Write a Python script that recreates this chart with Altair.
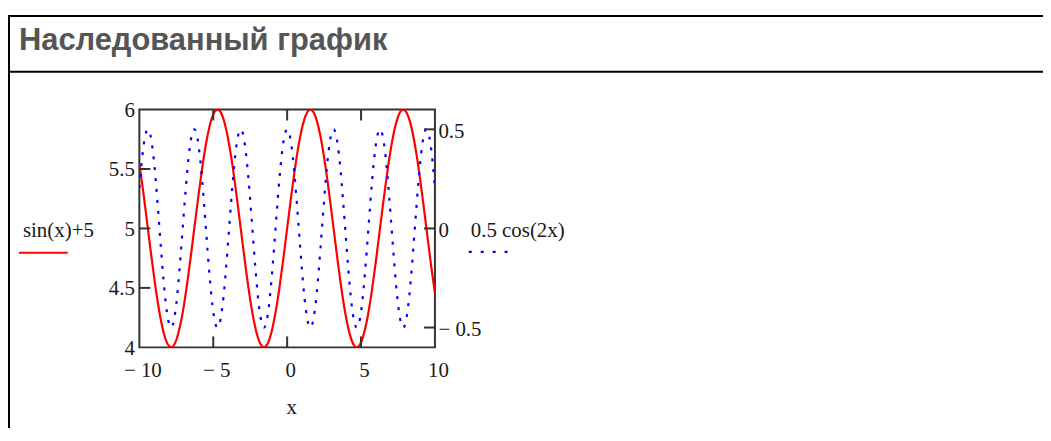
import altair as alt
import pandas as pd

# ---- data ----
x_vals = [-10.0, -9.75, -9.5, -9.25, -9.0, -8.75, -8.5, -8.25, -8.0, -7.75,
          -7.5, -7.25, -7.0, -6.75, -6.5, -6.25, -6.0, -5.75, -5.5, -5.25,
          -5.0, -4.75, -4.5, -4.25, -4.0, -3.75, -3.5, -3.25, -3.0, -2.75,
          -2.5, -2.25, -2.0, -1.75, -1.5, -1.25, -1.0, -0.75, -0.5, -0.25,
          0.0,
          0.25, 0.5, 0.75, 1.0, 1.25, 1.5, 1.75, 2.0, 2.25, 2.5,
          2.75, 3.0, 3.25, 3.5, 3.75, 4.0, 4.25, 4.5, 4.75, 5.0,
          5.25, 5.5, 5.75, 6.0, 6.25, 6.5, 6.75, 7.0, 7.25, 7.5,
          7.75, 8.0, 8.25, 8.5, 8.75, 9.0, 9.25, 9.5, 9.75, 10.0]

sin_plus5 = [5.544, 5.320, 5.075, 4.826, 4.588, 4.375, 4.201, 4.077, 4.011, 4.005,
             4.062, 4.177, 4.343, 4.550, 4.785, 5.033, 5.279, 5.508, 5.706, 5.859,
             5.959, 5.999, 5.978, 5.895, 5.757, 5.572, 5.351, 5.108, 4.859, 4.618,
             4.402, 4.222, 4.091, 4.016, 4.003, 4.051, 4.159, 4.318, 4.521, 4.753,
             5.000,
             5.247, 5.479, 5.682, 5.841, 5.949, 5.997, 5.984, 5.909, 5.778, 5.598,
             5.382, 5.141, 4.892, 4.649, 4.428, 4.243, 4.105, 4.022, 4.001, 4.041,
             4.141, 4.294, 4.492, 4.721, 4.967, 5.215, 5.450, 5.657, 5.823, 5.938,
             5.995, 5.989, 5.923, 5.799, 5.625, 5.412, 5.174, 4.925, 4.680, 4.456]

half_cos2x = [0.204, 0.398, 0.494, 0.470, 0.330, 0.110, -0.138, -0.351, -0.479, -0.489,
              -0.380, -0.177, 0.068, 0.297, 0.454, 0.499, 0.422, 0.242, 0.002, -0.238,
              -0.420, -0.499, -0.456, -0.301, -0.073, 0.173, 0.377, 0.488, 0.480, 0.354,
              0.142, -0.105, -0.327, -0.468, -0.495, -0.401, -0.208, 0.035, 0.270, 0.439,
              0.500,
              0.439, 0.270, 0.035, -0.208, -0.401, -0.495, -0.468, -0.327, -0.105, 0.142,
              0.354, 0.480, 0.488, 0.377, 0.173, -0.073, -0.301, -0.456, -0.499, -0.420,
              -0.238, 0.002, 0.242, 0.422, 0.499, 0.454, 0.297, 0.068, -0.177, -0.380,
              -0.489, -0.479, -0.351, -0.138, 0.110, 0.330, 0.470, 0.494, 0.398, 0.204]

x_ticks = [-10, -5, 0, 5, 10]
left_ticks = [4, 4.5, 5, 5.5, 6]
right_ticks = [-0.5, 0, 0.5]
inner_x_ticks = [-5, 0, 5]
inner_left_ticks = [4.5, 5, 5.5]
inner_right_ticks = [-0.5, 0, 0.5]

title_text = "Наследованный график"
legend_left = "sin(x)+5"
legend_right = "0.5 cos(2x)"
x_title = "x"

# ---- styling ----
SERIF = "Liberation Serif"
SANS = "Liberation Sans"
TXT = "#1a1a1a"
FRAME = "#333333"
FS = 21

W, H = 297, 239

df = pd.DataFrame({"x": x_vals, "s": sin_plus5, "c": half_cos2x})
one = pd.DataFrame({"k": [0]})

label_expr = ("datum.value < 0 ? '\u2212 ' + format(-datum.value, '~g') "
              ": format(datum.value, '~g')")

xscale = alt.Scale(domain=[-10, 10], nice=False, zero=False)
lscale = alt.Scale(domain=[4, 6], nice=False, zero=False)
rscale = alt.Scale(domain=[-0.6, 0.6], nice=False, zero=False)

xaxis = alt.Axis(values=x_ticks, labelExpr=label_expr, tickSize=0, domain=False,
                 grid=False, labelFlush=False, labelPadding=12, labelOffset=3,
                 labelFont=SERIF, labelFontSize=FS, labelColor=TXT,
                 title=x_title, titleFont=SERIF, titleFontSize=FS,
                 titleFontWeight="normal", titleColor=TXT, titlePadding=16,
                 titleX=W / 2 + 4, orient="bottom")
laxis = alt.Axis(values=left_ticks, labelExpr=label_expr, tickSize=0, domain=False,
                 grid=False, labelFlush=False, labelPadding=5, orient="left",
                 labelFont=SERIF, labelFontSize=FS, labelColor=TXT, title=None,
                 labelOffset=1)
raxis = alt.Axis(values=right_ticks, labelExpr=label_expr, tickSize=0, domain=False,
                 grid=False, labelFlush=False, labelPadding=3, orient="right",
                 labelFont=SERIF, labelFontSize=FS, labelColor=TXT, title=None,
                 labelOffset=2)

X = lambda: alt.X("x:Q", scale=xscale, axis=xaxis)

red = alt.Chart(df).mark_line(color="#ff0000", strokeWidth=2.2, interpolate="natural",
                              clip=True).encode(
    x=X(),
    y=alt.Y("s:Q", scale=lscale, axis=laxis),
)

tick_style = dict(color=FRAME, strokeWidth=2)

left_in = alt.Chart(pd.DataFrame({"s": inner_left_ticks})).mark_rule(**tick_style).encode(
    y=alt.Y("s:Q", scale=lscale, axis=laxis), x=alt.value(0), x2=alt.value(11))
bottom_in = alt.Chart(pd.DataFrame({"x": inner_x_ticks})).mark_rule(**tick_style).encode(
    x=X(), y=alt.value(H - 11), y2=alt.value(H))
top_in = alt.Chart(pd.DataFrame({"x": inner_x_ticks})).mark_rule(**tick_style).encode(
    x=X(), y=alt.value(0), y2=alt.value(11))

# header box and title (page coords minus plot origin 140,109)
border_left = alt.Chart(one).mark_rule(color="#000000", strokeWidth=2).encode(
    x=alt.value(-131), y=alt.value(-94), y2=alt.value(330))
border_top = alt.Chart(one).mark_rule(color="#000000", strokeWidth=2).encode(
    x=alt.value(-132), x2=alt.value(920), y=alt.value(-94))
border_mid = alt.Chart(one).mark_rule(color="#000000", strokeWidth=2).encode(
    x=alt.value(-132), x2=alt.value(920), y=alt.value(-38))
title = alt.Chart(one).mark_text(text=title_text, font=SANS, fontWeight="bold",
                                 fontSize=31, color="#555555", align="left",
                                 baseline="alphabetic").encode(
    x=alt.value(-121), y=alt.value(-60))

leg_l_text = alt.Chart(one).mark_text(text=legend_left, font=SERIF, fontSize=FS,
                                      color=TXT, align="left",
                                      baseline="alphabetic").encode(
    x=alt.value(-117), y=alt.value(128))
leg_l_line = alt.Chart(one).mark_rule(color="#ff0000", strokeWidth=2).encode(
    x=alt.value(-121), x2=alt.value(-72), y=alt.value(144))
leg_r_text = alt.Chart(one).mark_text(text=legend_right, font=SERIF, fontSize=FS,
                                      color=TXT, align="left",
                                      baseline="alphabetic").encode(
    x=alt.value(333), y=alt.value(128))
leg_r_line = alt.Chart(one).mark_rule(color="#0000ff", strokeWidth=2.2,
                                      strokeDash=[3, 9]).encode(
    x=alt.value(331), x2=alt.value(370), y=alt.value(143))

left_group = alt.layer(red, left_in, bottom_in, top_in, border_left, border_top,
                       border_mid, title, leg_l_text, leg_l_line, leg_r_text,
                       leg_r_line)

blue = alt.Chart(df).mark_line(color="#0000ff", strokeWidth=2.2, strokeDash=[3, 8],
                               interpolate="natural", clip=True).encode(
    x=X(),
    y=alt.Y("c:Q", scale=rscale, axis=raxis),
)
right_in = alt.Chart(pd.DataFrame({"c": inner_right_ticks})).mark_rule(**tick_style).encode(
    y=alt.Y("c:Q", scale=rscale, axis=raxis), x=alt.value(W - 11), x2=alt.value(W))

right_group = alt.layer(blue, right_in)

chart = alt.layer(left_group, right_group).resolve_scale(y="independent").properties(
    width=W, height=H,
    autosize=alt.AutoSizeParams(type="none"),
    padding={"left": 132, "top": 101, "right": 611, "bottom": 80},
    background="#ffffff",
).configure_view(stroke=FRAME, strokeWidth=2)

chart.save("out.html", embed_options={"renderer": "svg", "actions": False})
